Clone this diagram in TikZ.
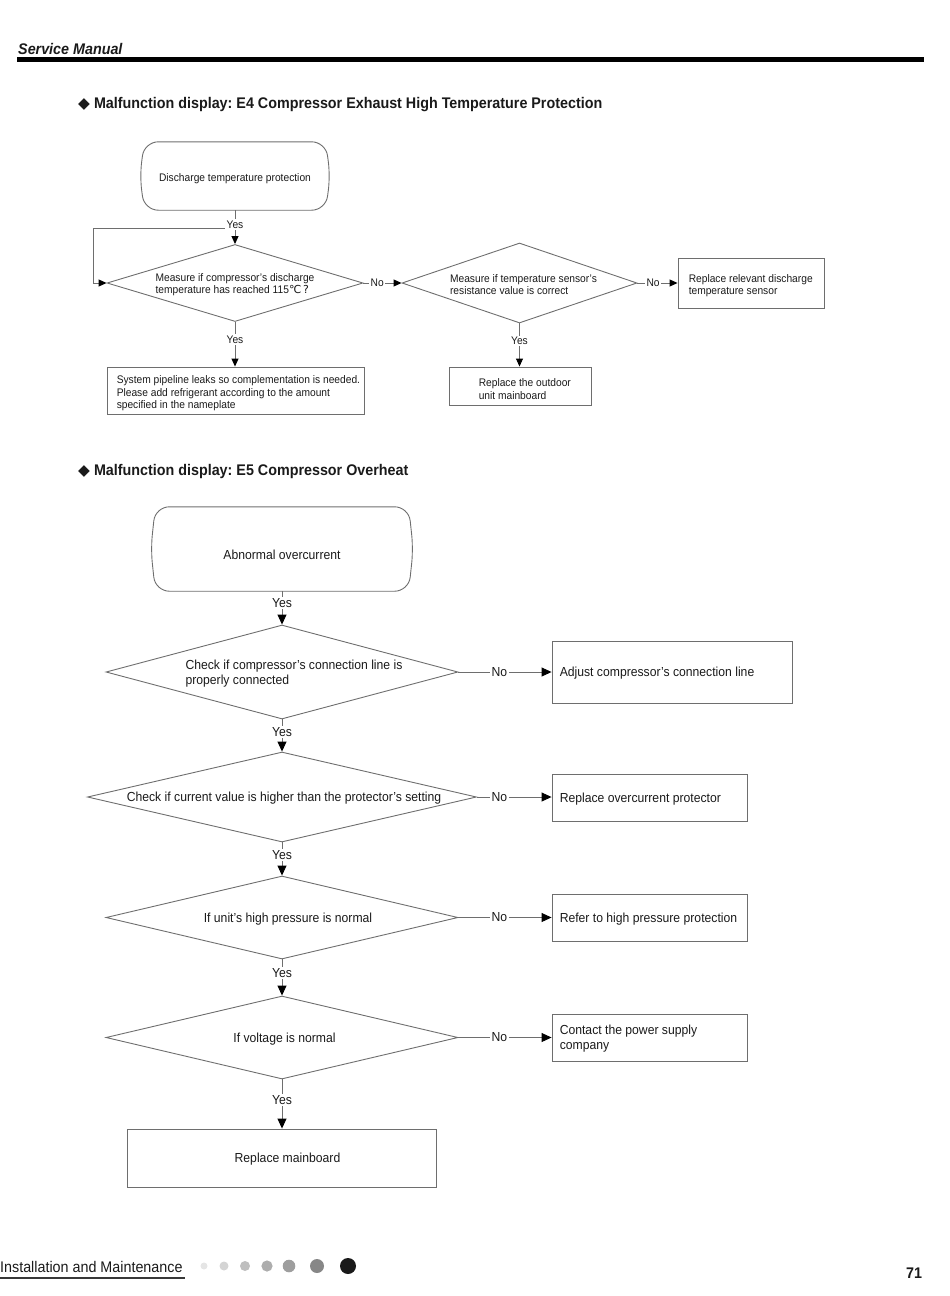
\documentclass[tikz,border=0pt]{standalone}
\usepackage{fontspec}
\setmainfont{Liberation Sans}[FakeStretch=0.93]
\newfontfamily\dejavu{DejaVu Sans}
\usetikzlibrary{shapes.geometric,arrows.meta,calc}
\definecolor{linegray}{HTML}{6E6E6E}
\definecolor{txt}{HTML}{1A1A1A}
\frenchspacing
\newcommand\myfs{\fontsize{11}{12.5}\selectfont}
\newcommand\myfm{\fontsize{13.1}{15}\selectfont}
\newcommand\myft{\fontsize{15.4}{18}\selectfont}
\newcommand\termoutline[1]{%
  \draw[ln, rounded corners=14pt] ([xshift=4.5pt]#1.north west) -- ([xshift=-4.5pt]#1.north east)
    -- (#1.east) -- ([xshift=-4.5pt]#1.south east)
    -- ([xshift=4.5pt]#1.south west) -- (#1.west) -- cycle;}
\tikzset{
  ln/.style={draw=linegray, line width=0.9pt},
  arrS/.style={ln, -{Triangle[length=8pt,width=7pt,color=black]}},
  arrM/.style={ln, -{Triangle[length=10pt,width=9pt,color=black]}},
  term/.style={rectangle, draw=none, inner sep=0pt, text=txt},
  dia/.style={diamond, ln, inner sep=0pt},
  box/.style={rectangle, ln, inner sep=0pt},
  tx/.style={inner sep=0pt, text=txt, align=left, yshift=-1.5pt},
  lblS/.style={fill=white, inner sep=1.5pt, text=txt, font=\myfs},
  lblM/.style={fill=white, inner sep=1.5pt, text=txt, font=\myfm},
}
\begin{document}
\begin{tikzpicture}[x=1pt,y=-1pt]
\useasboundingbox (0,0) rectangle (950,1296);

% header
\node[anchor=west, font=\myft\bfseries\itshape, text=txt, inner sep=0pt] (hdr) at (18,49) {Service Manual};
\draw[line width=4.5pt, black] (17,59.5) -- (924,59.5);

% titles
\node[anchor=west, font=\myft\bfseries, text=txt, inner sep=0pt] (t1) at (78,105) {{\dejavu ◆}\ Malfunction display: E4 Compressor Exhaust High Temperature Protection};
\node[anchor=west, font=\myft\bfseries, text=txt, inner sep=0pt] (t2) at (78,472) {{\dejavu ◆}\ Malfunction display: E5 Compressor Overheat};

% ================= E4 =================
\node[term, minimum width=190, minimum height=68,
  label={[tx,font=\myfs,yshift=-1.5pt]center:Discharge temperature protection}] (s1) at (235,176) {};
\termoutline{s1}

\node[dia, minimum width=256, minimum height=77,
  label={[tx,font=\myfs]center:{Measure if compressor’s discharge\\temperature has reached 115{\dejavu ℃\,?}}}] (d1) at (235,283) {};
\node[dia, minimum width=235, minimum height=80,
  label={[tx,font=\myfs,xshift=4pt]center:{Measure if temperature sensor’s\\resistance value is correct}}] (d2) at (519.5,283) {};
\node[box, minimum width=146, minimum height=50,
  label={[tx,font=\myfs,anchor=west,xshift=11pt,yshift=-1pt]west:{Replace relevant discharge\\temperature sensor}}] (e4c) at (751,283) {};
\node[box, minimum width=257, minimum height=47,
  label={[tx,font=\myfs,anchor=west,xshift=10pt,yshift=-1.5pt]west:{System pipeline leaks so complementation is needed.\\Please add refrigerant according to the amount\\specified in the nameplate}}] (e4a) at (235.5,390.5) {};
\node[box, minimum width=142, minimum height=38,
  label={[tx,font=\myfs,anchor=west,xshift=30pt,yshift=-1.5pt]west:{Replace the outdoor\\unit mainboard}}] (e4b) at (520,386) {};

\coordinate (j1) at (235,228);
\coordinate (c1) at (93,228);
\draw[arrS] (j1) -- (c1) |- (d1.west);
\draw[arrS] (s1.south) -- node[lblS, pos=0.43] (y1) {Yes} (d1.north);
\draw[arrS] (d1.east) -- node[lblS, pos=0.36] (n1) {No} (d2.west);
\draw[arrS] (d2.east) -- node[lblS, pos=0.39] (n2) {No} (e4c.west);
\draw[arrS] (d1.south) -- node[lblS, pos=0.4] (y2) {Yes} (d1.south |- e4a.north);
\draw[arrS] (d2.south) -- node[lblS, pos=0.41] (y3) {Yes} (d2.south |- e4b.north);

% ================= E5 =================
\node[term, minimum width=262, minimum height=84,
  label={[tx,font=\myfm,yshift=-4pt]center:Abnormal overcurrent}] (s2) at (282,549) {};
\termoutline{s2}

\node[dia, minimum width=352, minimum height=94,
  label={[tx,font=\myfm,xshift=12pt]center:{Check if compressor’s connection line is\\properly connected}}] (dA) at (282,672) {};
\node[dia, minimum width=389, minimum height=90,
  label={[tx,font=\myfm,xshift=2pt]center:{Check if current value is higher than the protector’s setting}}] (dB) at (282,797) {};
\node[dia, minimum width=352, minimum height=83,
  label={[tx,font=\myfm,xshift=6pt]center:{If unit’s high pressure is normal}}] (dC) at (282,917.5) {};
\node[dia, minimum width=352, minimum height=83,
  label={[tx,font=\myfm,xshift=2.5pt]center:{If voltage is normal}}] (dD) at (282,1037.5) {};

\node[box, minimum width=240, minimum height=62,
  label={[tx,font=\myfm,anchor=west,xshift=8pt]west:{Adjust compressor’s connection line}}] (r1) at (672,672) {};
\node[box, minimum width=195, minimum height=47,
  label={[tx,font=\myfm,anchor=west,xshift=8pt]west:{Replace overcurrent protector}}] (r2) at (649.5,797.5) {};
\node[box, minimum width=195, minimum height=47,
  label={[tx,font=\myfm,anchor=west,xshift=8pt]west:{Refer to high pressure protection}}] (r3) at (649.5,917.5) {};
\node[box, minimum width=195, minimum height=47,
  label={[tx,font=\myfm,anchor=west,xshift=8pt]west:{Contact the power supply\\company}}] (r4) at (649.5,1037.5) {};
\node[box, minimum width=309, minimum height=58,
  label={[tx,font=\myfm,xshift=6pt]center:{Replace mainboard}}] (r5) at (281.5,1158) {};

\draw[arrM] (s2.south) -- node[lblM, pos=0.35] (ya) {Yes} (dA.north);
\draw[arrM] (dA.south) -- node[lblM, pos=0.39] (yb) {Yes} (dB.north);
\draw[arrM] (dB.south) -- node[lblM, pos=0.38] (yc) {Yes} (dC.north);
\draw[arrM] (dC.south) -- node[lblM, pos=0.38] (yd) {Yes} (dD.north);
\draw[arrM] (dD.south) -- node[lblM, pos=0.42] (ye) {Yes} (dD.south |- r5.north);

\draw[arrM] (dA.east) -- node[lblM, pos=0.44] (na) {No} (dA.east -| r1.west);
\draw[arrM] (dB.east) -- node[lblM, pos=0.30] (nb) {No} (dB.east -| r2.west);
\draw[arrM] (dC.east) -- node[lblM, pos=0.44] (nc) {No} (dC.east -| r3.west);
\draw[arrM] (dD.east) -- node[lblM, pos=0.44] (nd) {No} (dD.east -| r4.west);

% footer
\node[anchor=west, font=\myft, text=txt, inner sep=0pt] (ftr) at (0,1267) {Installation and Maintenance};
\draw[line width=2pt, color=black!78] (0,1277.5) -- (185,1277.5);
\fill[black!10] (204,1266) circle (3.5);
\fill[black!17] (224,1266) circle (4.5);
\fill[black!25] (245,1266) circle (5);
\fill[black!32] (267,1266) circle (5.6);
\fill[black!38] (289,1266) circle (6.3);
\fill[black!47] (317,1266) circle (7);
\fill[black!90] (348,1266) circle (8);
\node[font=\myft\bfseries, text=txt, inner sep=0pt] (pg) at (914,1273) {71};
\end{tikzpicture}
\end{document}
